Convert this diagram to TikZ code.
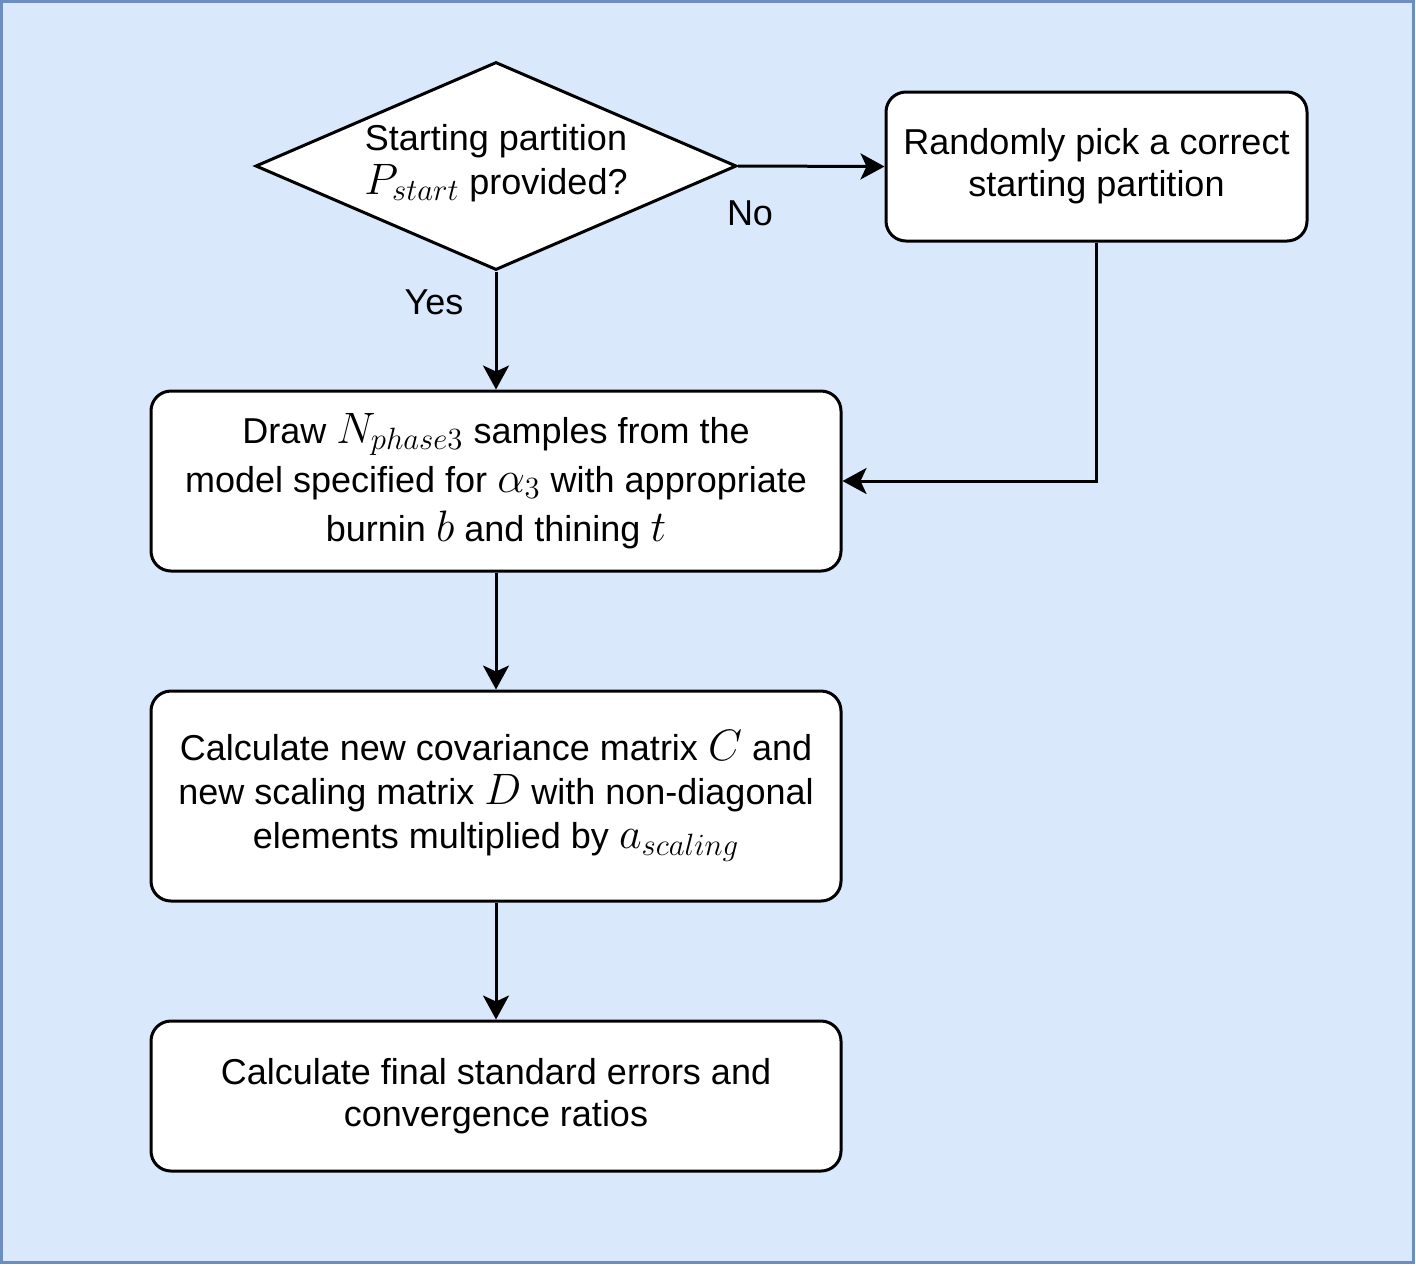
\documentclass[tikz,border=0pt]{standalone}
\usepackage{fix-cm}
\usepackage{fontspec}
\setmainfont{Liberation Sans}
\usetikzlibrary{shapes.geometric,arrows.meta}

\definecolor{bgfill}{HTML}{DAE8FC}
\definecolor{bgline}{HTML}{6C8EBF}
\newcommand{\mth}[1]{{\fontsize{22}{22}\selectfont$#1$}}

\begin{document}
\begin{tikzpicture}[x=0.5pt,y=-0.5pt,
		every node/.style={font=\fontsize{18}{21}\selectfont},
		box/.style={draw,fill=white,line width=1.5pt,rounded corners=10pt,align=center,minimum width=345pt},
		decision/.style={draw,fill=white,diamond,aspect=2.31,line width=1.5pt,inner xsep=-15pt,inner ysep=-10pt,
			minimum width=240.5pt,minimum height=104pt,align=center},
		flow/.style={-{Stealth[length=12pt,width=13pt,inset=3pt]},line width=1.5pt}]

		\useasboundingbox (0,0) rectangle (1416,1266);
		\draw[fill=bgfill,draw=bgline,line width=1.5pt] (1,1) rectangle (1413,1262);

		\node[decision] (start) at (496,166) {Starting partition\\[1pt] \mth{P_{start}}\ provided?\\[-14pt]};
		\node[box,minimum width=210.5pt,minimum height=74.5pt] (pick) at (1096.5,166.5)
			{Randomly pick a correct\\ starting partition};
		\node[box,minimum height=90pt,font=\fontsize{18}{24.5}\selectfont] (sample) at (496,481)
			{Draw \mth{N_{phase3}}\ samples from the\\ model specified for \mth{\alpha_3} with appropriate\\ burnin \mth{b} and thining \mth{t}};
		\node[box,minimum height=105pt,font=\fontsize{18}{22}\selectfont] (cov) at (496,796)
			{Calculate new covariance matrix \mth{C} and\\ new scaling matrix \mth{D} with non-diagonal\\ elements multiplied by \mth{a_{scaling}}};
		\node[box,minimum height=75pt] (final) at (496,1096)
			{Calculate final standard errors and\\ convergence ratios};

		\node (no) at (750,213) {No};
		\node (yes) at (434,302) {Yes};

		\draw[flow] (start.east) -- (pick.west);
		\draw[flow] (start.south) -- (sample.north);
		\draw[flow] (pick.south) |- (sample.east);
		\draw[flow] (sample.south) -- (cov.north);
		\draw[flow] (cov.south) -- (final.north);
	\end{tikzpicture}
\end{document}
